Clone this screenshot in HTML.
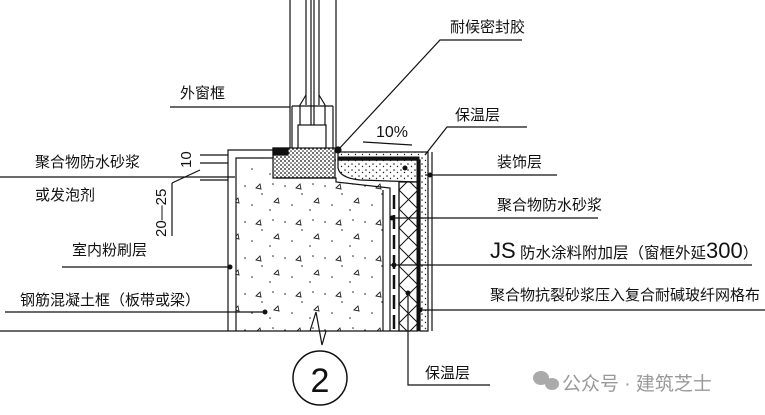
<!DOCTYPE html>
<html><head><meta charset="utf-8"><style>
body{margin:0;background:#fff}
svg{display:block}
text{font-family:"Liberation Sans","Noto Sans CJK SC",sans-serif;fill:#111}
</style></head><body>
<svg width="765" height="415" viewBox="0 0 765 415" xmlns="http://www.w3.org/2000/svg">
<defs>
<pattern id="dots" width="7" height="6" patternUnits="userSpaceOnUse"><circle cx="2" cy="2" r="0.8" fill="#222"/><circle cx="5.5" cy="4.5" r="0.7" fill="#222"/></pattern>
<pattern id="dense" width="4" height="4" patternUnits="userSpaceOnUse"><rect width="4" height="4" fill="#fff"/><circle cx="1" cy="1" r="0.9" fill="#111"/><circle cx="3" cy="3" r="0.8" fill="#111"/></pattern>
<pattern id="xh" width="19" height="19" patternUnits="userSpaceOnUse"><path d="M0 0L19 19M19 0L0 19" stroke="#111" stroke-width="1"/></pattern>
<pattern id="conc" width="40" height="36" patternUnits="userSpaceOnUse"><circle cx="5" cy="6" r="0.8" fill="#222"/><circle cx="22" cy="14" r="0.8" fill="#222"/><circle cx="33" cy="4" r="0.8" fill="#222"/><circle cx="12" cy="25" r="0.8" fill="#222"/><circle cx="30" cy="30" r="0.8" fill="#222"/><path d="M16 8l4 -4 1 5z" fill="none" stroke="#222" stroke-width="0.9"/><path d="M34 22l4 -4 1 5z" fill="none" stroke="#222" stroke-width="0.9"/></pattern>
</defs>
<g stroke="#111" fill="none" stroke-width="1.2">
<line x1="290" y1="0" x2="290" y2="160"/>
<line x1="336" y1="0" x2="336" y2="148"/>
<line x1="306" y1="0" x2="306" y2="105"/>
<line x1="311" y1="0" x2="311" y2="125"/>
<line x1="314" y1="0" x2="314" y2="125"/>
<line x1="319" y1="0" x2="319" y2="105"/>
<polyline points="306,95 300,105 300,125"/>
<polyline points="319,95 325,105 325,125"/>
<line x1="292" y1="106" x2="333" y2="106"/>
<polyline points="292,106 292,160"/>
<polyline points="333,106 333,160"/>
<rect x="298" y="125" width="28" height="35"/>
<line x1="290" y1="160" x2="336" y2="160"/>
<polyline points="228,331 228,150 276,150"/>
<polyline points="236,331 236,158 276,158"/>
<rect x="236" y="180" width="151" height="151" fill="url(#conc)" stroke="none"/>
<rect x="240" y="158" width="36" height="24" fill="url(#conc)" stroke="none"/>
<rect x="273" y="148" width="62" height="30" fill="url(#dense)"/>
<rect x="273" y="148" width="15" height="7" fill="#111"/>
<polyline points="276,178 336,178 336,182 390,188 390,331"/>
<line x1="383" y1="190" x2="383" y2="331"/>
<path d="M338,152 L428,152 L428,331 L420,331 L420,160 L338,160 Z" fill="url(#dots)"/>
<path d="M338,160 L418,160 L418,182 L360,180 Q340,178 338,168 Z" fill="url(#dots)"/>
<polyline points="338,158 418,158 418,331" stroke-width="3"/>
<line x1="432" y1="152" x2="432" y2="331"/>
<rect x="399" y="182" width="19" height="149" fill="url(#xh)"/>
<line x1="399" y1="182" x2="399" y2="331"/>
<line x1="394" y1="195" x2="394" y2="331" stroke-width="2.5" stroke-dasharray="14,6"/>
<circle cx="338" cy="150" r="3" fill="#111"/>
<line x1="0" y1="331" x2="410" y2="331"/>
<polyline points="310,331 316,312 322,345 326,331"/>
<circle cx="320" cy="378" r="27" stroke-width="1.5"/>
<polyline points="338,150 440,40 522,40"/>
<polyline points="170,107 290,107"/>
<polyline points="425,155 447,127 527,127"/>
<polyline points="363,142 412,145"/>
<polyline points="425,175 557,175"/>
<polyline points="390,218 598,218"/>
<polyline points="390,265 752,265"/>
<polyline points="420,310 765,310"/>
<polyline points="408,293 408,385 490,385"/>
<polyline points="0,177 235,177"/>
<polyline points="62,267 230,267"/>
<polyline points="5,312 265,312"/>
<polyline points="172,183 200,170"/>
<line x1="172" y1="183" x2="172" y2="236"/>
<line x1="200" y1="155" x2="228" y2="155"/>
<line x1="200" y1="163" x2="228" y2="163"/>
<line x1="200" y1="180" x2="228" y2="180"/>
</g>
<g fill="#111">
<circle cx="430" cy="175" r="2.5"/><circle cx="392" cy="218" r="2.5"/>
<circle cx="394" cy="265" r="2.5"/><circle cx="420" cy="310" r="2.5"/><circle cx="408" cy="293" r="2.5"/>
<circle cx="230" cy="267" r="2.5"/><circle cx="265" cy="312" r="2.5"/><circle cx="405" cy="168" r="2.5"/>
</g>
<text x="320" y="392" font-size="34" text-anchor="middle" font-family="Liberation Serif,serif">2</text>
<g font-size="15">
<text x="450" y="32">耐候密封胶</text>
<text x="180" y="98">外窗框</text>
<text x="455" y="120">保温层</text>
<text x="376" y="137" font-size="16">10%</text>
<text x="497" y="167">装饰层</text>
<text x="497" y="210">聚合物防水砂浆</text>
<text x="490" y="258" font-size="15.5"><tspan font-size="22">JS</tspan> 防水涂料附加层（窗框外延<tspan font-size="22">300</tspan>）</text>
<text x="490" y="300">聚合物抗裂砂浆压入复合耐碱玻纤网格布</text>
<text x="35" y="167">聚合物防水砂浆</text>
<text x="35" y="200">或发泡剂</text>
<text x="72" y="255">室内粉刷层</text>
<text x="20" y="305">钢筋混凝土框（板带或梁）</text>
<text x="425" y="378">保温层</text>
<text transform="translate(191,168) rotate(-90)" font-size="15">10</text>
<text transform="translate(166,237) rotate(-90)" font-size="15">20—25</text>
</g>
<g fill="#aaa"><ellipse cx="541" cy="378" rx="8" ry="7"/><ellipse cx="552" cy="384" rx="7" ry="6"/></g>
<text x="562" y="390" font-size="19" style="fill:#999">公众号 · 建筑芝士</text>
</svg>
</body></html>
